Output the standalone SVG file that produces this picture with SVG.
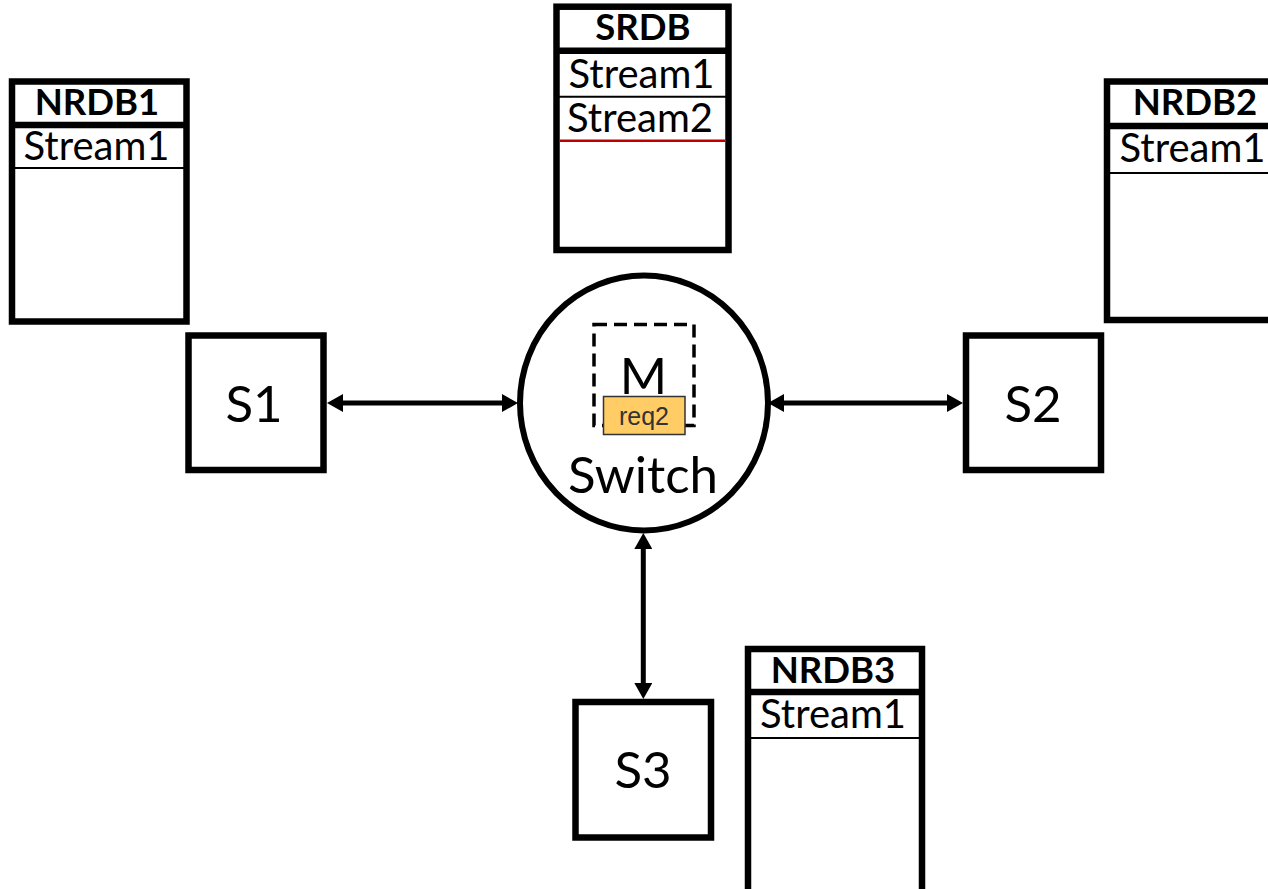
<svg xmlns="http://www.w3.org/2000/svg" width="1268" height="889" viewBox="0 0 1268 889">
  <style>
    .box { fill: #ffffff; stroke: #000000; stroke-width: 6.5; }
    .hdr { fill: none; stroke: #000000; stroke-width: 6.5; }
    .row { fill: none; stroke: #000000; stroke-width: 2; }
    .red { fill: none; stroke: #C00000; stroke-width: 2.5; }
    .title { font-family: Lato, "Open Sans", sans-serif; font-weight: bold; font-size: 36.5px; fill: #000; text-anchor: middle; }
    .cell { font-family: Lato, "Open Sans", sans-serif; font-size: 40px; fill: #000; text-anchor: middle; }
    .big { font-family: Lato, "Open Sans", sans-serif; font-size: 51px; fill: #000; text-anchor: middle; }
    .conn { fill: none; stroke: #000000; stroke-width: 5; }
  </style>
  <defs>
    <marker id="arrow" viewBox="0 0 16 18" refX="4" refY="9" markerWidth="16" markerHeight="18" markerUnits="userSpaceOnUse" orient="auto-start-reverse">
      <path d="M0,0 L16,9 L0,18 z" fill="#000000"/>
    </marker>
  </defs>
  <rect width="1268" height="889" fill="#ffffff"/>

  <g id="SRDB">
    <rect class="box" x="556.5" y="6.7" width="172" height="243.3"/>
    <line class="hdr" x1="556.5" y1="50.8" x2="728.5" y2="50.8"/>
    <line class="row" x1="556.5" y1="96.7" x2="728.5" y2="96.7"/>
    <line class="red" x1="559.5" y1="140.7" x2="725.5" y2="140.7"/>
    <text class="title" x="643" y="40">SRDB</text>
    <text class="cell" x="641.5" y="88">Stream1</text>
    <text class="cell" x="640" y="131.5">Stream2</text>
  </g>

  <g id="NRDB1">
    <rect class="box" x="12" y="81.5" width="174.5" height="240"/>
    <line class="hdr" x1="12" y1="125" x2="186.5" y2="125"/>
    <line class="row" x1="12" y1="168" x2="186.5" y2="168"/>
    <text class="title" x="97" y="115">NRDB1</text>
    <text class="cell" x="96.5" y="160">Stream1</text>
  </g>

  <g id="NRDB2">
    <rect class="box" x="1107" y="81.5" width="176" height="238.5"/>
    <line class="hdr" x1="1107" y1="126" x2="1283" y2="126"/>
    <line class="row" x1="1107" y1="173" x2="1283" y2="173"/>
    <text class="title" x="1195" y="115">NRDB2</text>
    <text class="cell" x="1192.5" y="162">Stream1</text>
  </g>

  <g id="NRDB3">
    <rect class="box" x="748" y="649" width="174" height="260"/>
    <line class="hdr" x1="748" y1="692" x2="922" y2="692"/>
    <line class="row" x1="748" y1="738" x2="922" y2="738"/>
    <text class="title" x="833" y="683">NRDB3</text>
    <text class="cell" x="833" y="728">Stream1</text>
  </g>

  <g id="S1">
    <rect class="box" x="188.5" y="335.5" width="135" height="134.5"/>
    <text class="big" x="254" y="421.5">S1</text>
  </g>

  <g id="S2">
    <rect class="box" x="966" y="335.5" width="135" height="134.5"/>
    <text class="big" x="1033" y="421.5">S2</text>
  </g>

  <g id="S3">
    <rect class="box" x="575.5" y="702" width="135.5" height="135.5"/>
    <text class="big" x="643" y="788">S3</text>
  </g>

  <g id="Switch">
    <ellipse cx="644" cy="403" rx="124" ry="127.5" fill="#ffffff" stroke="#000000" stroke-width="6"/>
    <rect x="594" y="324.5" width="100" height="101" fill="none" stroke="#000000" stroke-width="3.5" stroke-dasharray="13 7"/>
    <text class="big" x="643.5" y="394">M</text>
    <rect x="603.5" y="396.5" width="81.5" height="38" fill="#FFCC66" stroke="#333333" stroke-width="1.5"/>
    <text x="644" y="425" font-family="'Liberation Sans', Arial, sans-serif" font-size="25px" fill="#333333" text-anchor="middle">req2</text>
    <text class="big" x="643" y="493">Switch</text>
  </g>

  <g id="connectors">
    <line class="conn" x1="339" y1="403" x2="506" y2="403" marker-start="url(#arrow)" marker-end="url(#arrow)"/>
    <line class="conn" x1="780" y1="403" x2="951" y2="403" marker-start="url(#arrow)" marker-end="url(#arrow)"/>
    <line class="conn" x1="643.3" y1="545" x2="643.3" y2="687" marker-start="url(#arrow)" marker-end="url(#arrow)"/>
  </g>
</svg>
